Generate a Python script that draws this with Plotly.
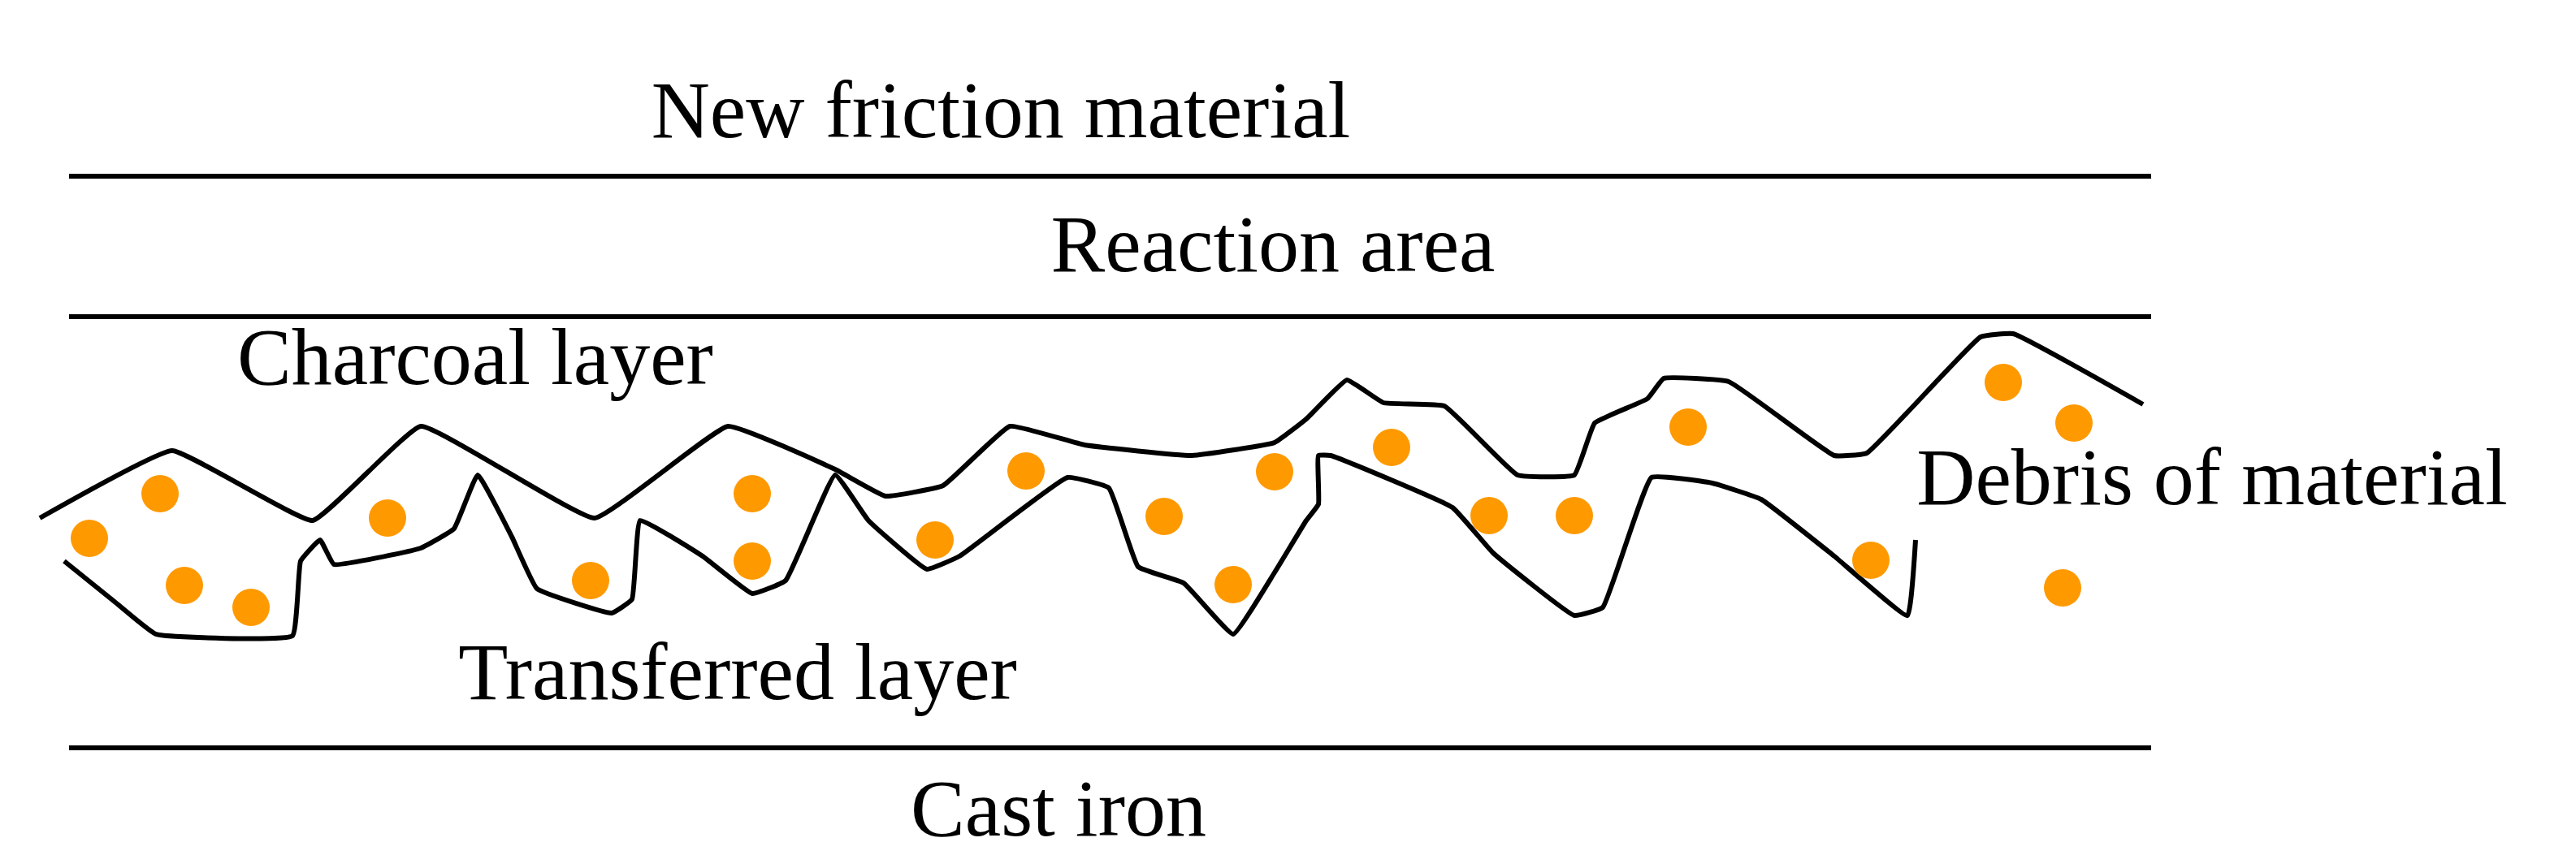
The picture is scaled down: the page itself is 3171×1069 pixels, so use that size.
import plotly.graph_objects as go

W, H = 3171, 1069

# layer boundary lines (y in pixel units, measured from top)
boundary_y = [209, 382, 913]
boundary_x = [77, 2640]

# labels
label_text = ["New friction material", "Reaction area", "Charcoal layer",
              "Transferred layer", "Debris of material", "Cast iron"]
label_x = [1224, 1559, 577, 900, 2715, 1295]
label_y = [136, 301, 440, 828, 588, 996]

# upper wavy boundary of the debris band
upper_x = [41, 204, 377, 510, 724, 888, 1020, 1082, 1153, 1235, 1327, 1459, 1561, 1600, 1650,
           1695, 1770, 1860, 1930, 1955, 2020, 2040, 2120, 2250, 2290, 2430, 2470, 2630]
upper_y = [630, 547, 633, 517, 630, 517, 570, 603, 590, 517, 540, 553, 537, 508, 460,
           488, 492, 577, 577, 513, 483, 458, 462, 553, 550, 407, 403, 490]

# lower wavy boundary
lower_x = [71, 133, 184, 352, 362, 386, 403, 510, 551, 580, 622, 653, 745, 770, 780, 857, 918,
           959, 1020, 1061, 1133, 1173, 1306, 1357, 1393, 1449, 1510, 1561, 1600, 1615, 1615,
           1630, 1780, 1830, 1930, 1965, 2025, 2100, 2160, 2250, 2340, 2350]
lower_y = [683, 733, 773, 775, 683, 657, 687, 667, 643, 577, 653, 717, 747, 730, 633, 677, 723,
           707, 577, 633, 693, 677, 580, 593, 690, 710, 773, 697, 633, 613, 553,
           553, 617, 673, 750, 740, 580, 587, 607, 677, 750, 657]

# debris particles
dot_x = [189, 102, 219, 301, 469, 719, 918, 918, 1143, 1255, 1425, 1561, 1510,
         1705, 2070, 1825, 1930, 2458, 2545, 2295, 2531]
dot_y = [600, 655, 713, 740, 630, 707, 600, 683, 657, 572, 628, 573, 712,
         543, 518, 627, 627, 463, 513, 682, 716]

fig = go.Figure()

for y in boundary_y:
    fig.add_trace(go.Scatter(x=boundary_x, y=[y, y], mode='lines',
                             line=dict(color='black', width=6), hoverinfo='skip'))

fig.add_trace(go.Scatter(x=upper_x, y=upper_y, mode='lines',
                         line=dict(color='black', width=6, shape='spline', smoothing=0.3)))
fig.add_trace(go.Scatter(x=lower_x, y=lower_y, mode='lines',
                         line=dict(color='black', width=6, shape='spline', smoothing=0.3)))

fig.add_trace(go.Scatter(x=dot_x, y=dot_y, mode='markers',
                         marker=dict(color='#FF9900', size=46, line=dict(width=0))))

fig.add_trace(go.Scatter(x=label_x, y=label_y, mode='text', text=label_text,
                         textposition='middle center',
                         textfont=dict(family='Liberation Serif', size=100, color='black')))

fig.update_xaxes(range=[0, W], visible=False)
fig.update_yaxes(range=[H, 0], visible=False)
fig.update_layout(width=W, height=H, margin=dict(l=0, r=0, t=0, b=0),
                  plot_bgcolor='white', paper_bgcolor='white', showlegend=False)

fig.write_html("out.html")
